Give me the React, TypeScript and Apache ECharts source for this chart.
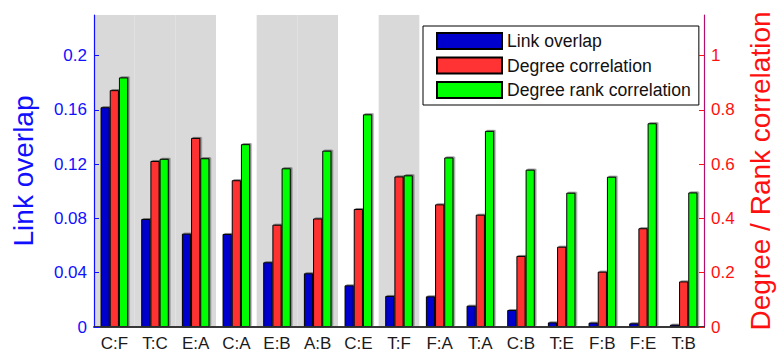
import React, { useEffect, useRef } from "react";
import * as echarts from "echarts";

const categories = ["C:F", "T:C", "E:A", "C:A", "E:B", "A:B", "C:E", "T:F", "F:A", "T:A", "C:B", "T:E", "F:B", "F:E", "T:B"];
const shaded = [1, 1, 1, 0, 1, 1, 0, 1, 0, 0, 0, 0, 0, 0, 0];
const linkOverlap = [0.162, 0.0796, 0.0688, 0.0686, 0.0477, 0.0396, 0.0307, 0.0229, 0.0226, 0.0157, 0.0125, 0.0034, 0.0032, 0.0027, 0.0017];
const degreeCorr = [0.873, 0.612, 0.697, 0.541, 0.377, 0.4, 0.435, 0.555, 0.452, 0.414, 0.262, 0.296, 0.204, 0.364, 0.168];
const degreeRankCorr = [0.92, 0.62, 0.622, 0.674, 0.585, 0.65, 0.784, 0.559, 0.625, 0.723, 0.58, 0.495, 0.554, 0.751, 0.496];

const leftMax = 0.23;
const rightMax = 1.15;
const FONT = "Liberation Sans, Arial, Helvetica, sans-serif";

export default function App() {
  const ref = useRef<HTMLDivElement>(null);
  useEffect(() => {
    document.body.style.margin = "0";
    const chart = echarts.init(ref.current!, null, { renderer: "svg" });
    const barStyle = (color: string) => ({
      color,
      borderColor: "#000",
      borderWidth: 1,
      shadowColor: "rgba(0,0,0,0.45)",
      shadowOffsetX: 1.5,
      shadowOffsetY: -1,
      shadowBlur: 1,
    });
    chart.setOption({
      animation: false,
      textStyle: { fontFamily: FONT },
      grid: { left: 94, top: 15, right: 70, bottom: 28, containLabel: false },
      legend: {
        data: ["Link overlap", "Degree correlation", "Degree rank correlation"],
        orient: "vertical",
        left: 423,
        top: 26,
        itemWidth: 65,
        itemHeight: 16,
        itemGap: 6.5,
        padding: [6, 8, 6, 13],
        borderColor: "#000",
        borderWidth: 1,
        backgroundColor: "#fff",
        icon: "rect",
        textStyle: { fontSize: 17.6, lineHeight: 16, color: "#111", fontFamily: FONT },
      },
      xAxis: [
        {
          type: "category",
          data: categories,
          position: "bottom",
          z: 5,
          axisLine: { lineStyle: { color: "#111", width: 1.5 } },
          axisTick: { inside: true, alignWithLabel: true, length: 4, lineStyle: { color: "#333" } },
          axisLabel: { fontSize: 17, color: "#1a1a1a", margin: 8, fontFamily: FONT },
        },
        {
          type: "category",
          data: categories,
          position: "top",
          z: 5,
          axisLine: { lineStyle: { color: "#333", width: 1.5 } },
          axisTick: { inside: true, alignWithLabel: true, length: 4, lineStyle: { color: "#333" } },
          axisLabel: { show: false },
        },
      ],
      yAxis: [
        {
          type: "value",
          position: "left",
          min: 0,
          max: leftMax,
          interval: 0.04,
          z: 5,
          splitLine: { show: false },
          axisLine: { show: true, lineStyle: { color: "#1010ff", width: 1.2 } },
          axisTick: { show: true, inside: true, length: 5, lineStyle: { color: "#1010ff" } },
          axisLabel: { fontSize: 17, color: "#1010ff", margin: 7, showMaxLabel: false, fontFamily: FONT },
          name: "Link overlap",
          nameLocation: "middle",
          nameRotate: 90,
          nameGap: 57,
          nameTextStyle: { fontSize: 28, color: "#1010ff", fontFamily: FONT },
        },
        {
          type: "value",
          position: "right",
          min: 0,
          max: rightMax,
          interval: 0.2,
          z: 5,
          splitLine: { show: false },
          axisLine: { show: true, lineStyle: { color: "#b0106a", width: 1.2 } },
          axisTick: { show: true, inside: true, length: 5, lineStyle: { color: "#ff1010" } },
          axisLabel: { fontSize: 17, color: "#ff1010", margin: 7, showMaxLabel: false, fontFamily: FONT },
          name: "Degree / Rank correlation",
          nameLocation: "middle",
          nameRotate: 90,
          nameGap: 42,
          nameTextStyle: { fontSize: 28, color: "#ff1010", fontFamily: FONT },
        },
      ],
      series: [
        {
          name: "band",
          type: "bar",
          xAxisIndex: 1,
          yAxisIndex: 0,
          data: shaded.map((s) => (s ? leftMax : 0)),
          barWidth: "100%",
          silent: true,
          z: 1,
          itemStyle: { color: "#d9d9d9" },
        },
        {
          name: "Link overlap",
          type: "bar",
          xAxisIndex: 0,
          yAxisIndex: 0,
          data: linkOverlap,
          barWidth: "22.6%",
          barGap: "0%",
          z: 2,
          itemStyle: barStyle("#0000cc"),
        },
        {
          name: "Degree correlation",
          type: "bar",
          xAxisIndex: 0,
          yAxisIndex: 1,
          data: degreeCorr,
          barWidth: "22.6%",
          barGap: "0%",
          z: 2,
          itemStyle: barStyle("#ff3333"),
        },
        {
          name: "Degree rank correlation",
          type: "bar",
          xAxisIndex: 0,
          yAxisIndex: 1,
          data: degreeRankCorr,
          barWidth: "22.6%",
          barGap: "0%",
          z: 2,
          itemStyle: barStyle("#00ff00"),
        },
      ],
    });
    return () => chart.dispose();
  }, []);
  return <div ref={ref} style={{ width: 782, height: 355 }} />;
}
